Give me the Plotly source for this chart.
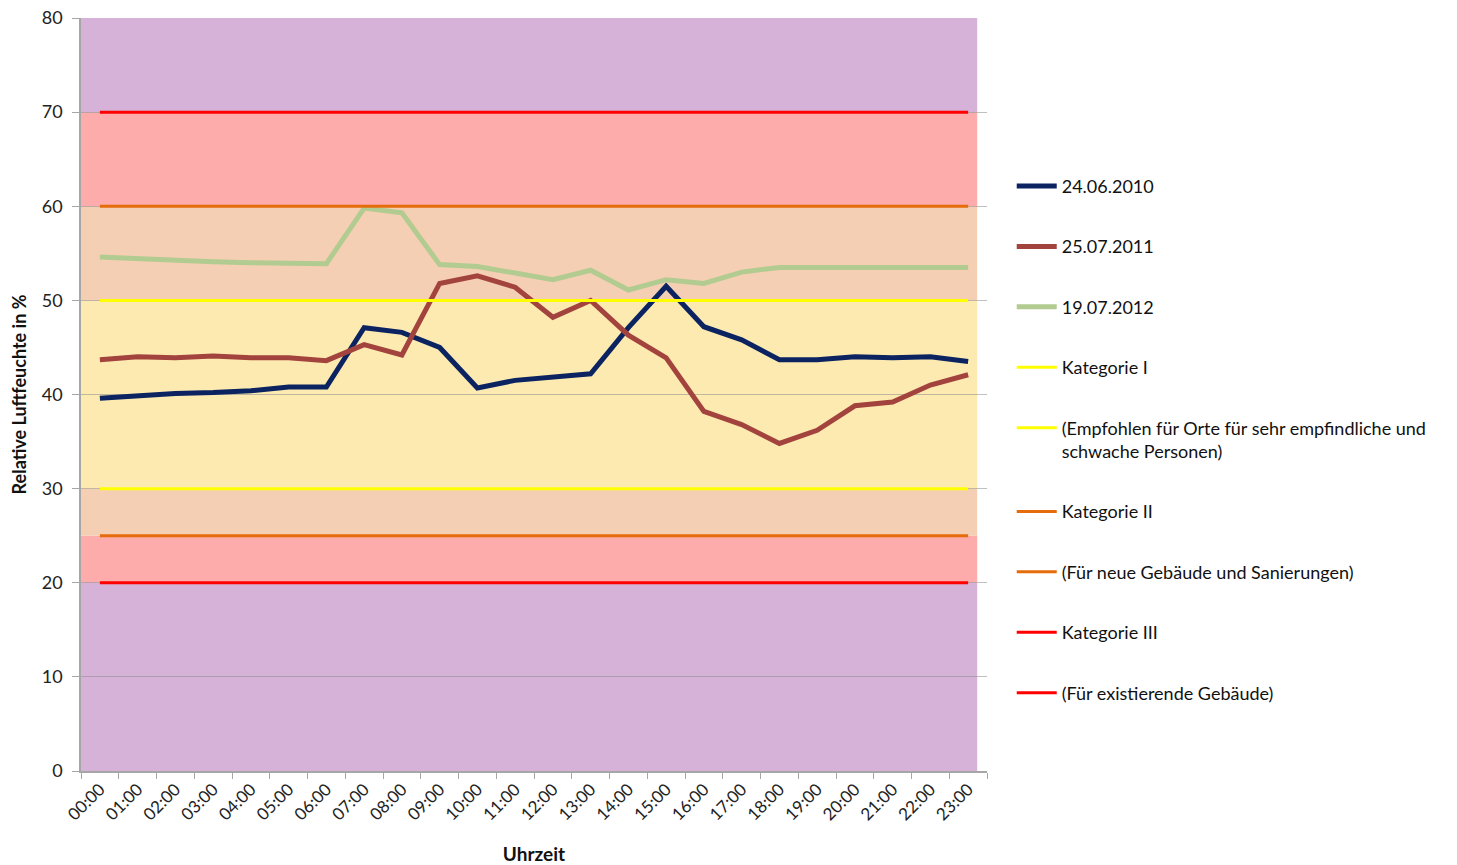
import plotly.graph_objects as go

hours = ["00:00", "01:00", "02:00", "03:00", "04:00", "05:00", "06:00", "07:00",
         "08:00", "09:00", "10:00", "11:00", "12:00", "13:00", "14:00", "15:00",
         "16:00", "17:00", "18:00", "19:00", "20:00", "21:00", "22:00", "23:00"]

rh_2010 = [39.6, 39.9, 40.1, 40.2, 40.4, 40.8, 40.8, 47.1, 46.6, 45.0, 40.7, 41.5,
           41.9, 42.2, 47.1, 51.5, 47.2, 45.8, 43.7, 43.7, 44.0, 43.9, 44.0, 43.5]
rh_2011 = [43.7, 44.0, 43.9, 44.1, 43.9, 43.9, 43.6, 45.3, 44.2, 51.8, 52.6, 51.4,
           48.2, 50.0, 46.3, 43.9, 38.2, 36.8, 34.8, 36.2, 38.8, 39.2, 41.0, 42.1]
rh_2012 = [54.6, 54.4, 54.3, 54.1, 54.0, 54.0, 53.9, 59.8, 59.3, 53.8, 53.6, 52.9,
           52.2, 53.2, 51.1, 52.2, 51.8, 53.0, 53.5, 53.5, 53.5, 53.5, 53.5, 53.5]

series_names = ["24.06.2010", "25.07.2011", "19.07.2012"]
series_colors = ["#0B2360", "#A3433D", "#B2CB91"]

limit_names = ["Kategorie I",
               "(Empfohlen für Orte für sehr empfindliche und<br>schwache Personen)",
               "Kategorie II", "(Für neue Gebäude und Sanierungen)",
               "Kategorie III", "(Für existierende Gebäude)"]
limit_values = [50, 30, 60, 25, 70, 20]
limit_colors = ["#FFFF00", "#FFFF00", "#E46C0A", "#E46C0A", "#FF0000", "#FF0000"]

# background bands (lower, upper, colour)
band_lo = [0, 20, 25, 30, 50, 60, 70]
band_hi = [20, 25, 30, 50, 60, 70, 80]
band_colors = ["#D6B1D8", "#FDABAB", "#F5CFB3", "#FDEAB1", "#F5CFB3", "#FDABAB", "#D6B1D8"]

FONT = "Lato"

fig = go.Figure()

for lo, hi, c in zip(band_lo, band_hi, band_colors):
    fig.add_shape(type="rect", xref="x", yref="y", x0=-0.5, x1=23.24, y0=lo, y1=hi,
                  fillcolor=c, line_width=0, layer="below")

for i, (name, vals) in enumerate(zip(series_names, [rh_2010, rh_2011, rh_2012])):
    fig.add_trace(go.Scatter(x=hours, y=vals, mode="lines", name=name,
                             legendgroup=f"g{i}",
                             line=dict(color=series_colors[i], width=5)))

for j, (name, v, c) in enumerate(zip(limit_names, limit_values, limit_colors)):
    fig.add_trace(go.Scatter(x=hours, y=[v] * len(hours), mode="lines", name=name,
                             legendgroup=f"l{j}",
                             line=dict(color=c, width=3)))

fig.update_layout(
    width=1457, height=865,
    margin=dict(l=81, r=470, t=18, b=94),
    paper_bgcolor="white", plot_bgcolor="white",
    font=dict(family=FONT, size=17, color="#222222"),
    showlegend=True,
    legend=dict(x=1.0273, y=0.801, xanchor="left", yanchor="top",
                font=dict(family=FONT, size=18, color="#111111"),
                tracegroupgap=34, valign="top", itemwidth=40,
                bgcolor="rgba(0,0,0,0)"),
)

fig.update_xaxes(type="category", range=[-0.5, 23.5], tickangle=-45,
                 tickson="boundaries", ticks="outside", ticklen=6, tickcolor="#A6A6A6",
                 showline=True, linecolor="#A6A6A6", linewidth=1.5,
                 showgrid=False, zeroline=False, automargin=False,
                 tickfont=dict(family=FONT, size=17, color="#222222"),
                 title=dict(text="<b>Uhrzeit</b>", font=dict(family=FONT, size=19, color="#111111"),
                            standoff=24))

fig.update_yaxes(range=[0, 80], dtick=10, ticks="outside", ticklen=7, tickcolor="#A6A6A6",
                 showline=True, linecolor="#A6A6A6", linewidth=1.5,
                 showgrid=True, gridcolor="rgba(140,140,140,0.55)", gridwidth=1,
                 zeroline=False, automargin=False, ticklabelstandoff=6,
                 tickfont=dict(family=FONT, size=18, color="#222222"),
                 title=dict(text="<b>Relative Luftfeuchte in %</b>",
                            font=dict(family=FONT, size=18, color="#111111"), standoff=10))

fig.write_html("out.html", config={"displayModeBar": False},
               post_script="document.body.style.margin='0';")
